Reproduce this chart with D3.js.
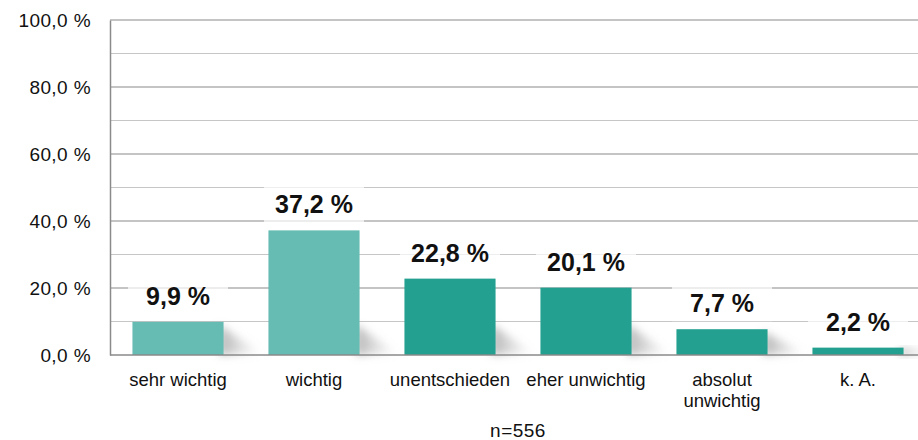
<!DOCTYPE html>
<html>
<head>
<meta charset="utf-8">
<script src="https://cdn.jsdelivr.net/npm/d3@7"></script>
<style>
  body { margin: 0; background: #fff; }
  text { font-family: "Liberation Sans", Arial, sans-serif; }
</style>
</head>
<body>
<svg id="mainsvg" width="918" height="440"></svg>
<script>
// data
const categories = ['sehr wichtig', 'wichtig', 'unentschieden', 'eher unwichtig', 'absolut unwichtig', 'k. A.'];
const values = [9.9, 37.2, 22.8, 20.1, 7.7, 2.2];
const barColors = ['#66bcb3', '#66bcb3', '#23a08f', '#23a08f', '#23a08f', '#23a08f'];
const majorTicks = [0, 20, 40, 60, 80, 100];
const minorTicks = [10, 30, 50, 70, 90];
const footnote = 'n=556';

const svg = d3.select('#mainsvg');
const margin = { top: 20, left: 110, right: 926, bottom: 355 };

const yScale = d3.scaleLinear().domain([0, 100]).range([margin.bottom, margin.top]);
const xScale = d3.scaleBand().domain(categories)
    .range([margin.left, margin.right])
    .paddingInner(0.33).paddingOuter(0.165);

const fmt = v => v.toFixed(1).replace('.', ',') + ' %';

// shadow filter
const defs = svg.append('defs');
defs.append('filter').attr('id', 'blur')
    .attr('x', '-50%').attr('y', '-50%').attr('width', '200%').attr('height', '200%')
    .append('feGaussianBlur').attr('stdDeviation', 4);
const grad = defs.append('linearGradient').attr('id', 'shade')
    .attr('x1', 0).attr('x2', 1).attr('y1', 0).attr('y2', 0);
grad.append('stop').attr('offset', 0).attr('stop-color', '#9a9a9a').attr('stop-opacity', 0.75);
grad.append('stop').attr('offset', 1).attr('stop-color', '#bbbbbb').attr('stop-opacity', 0);

// grid lines
const g = svg.append('g');
g.selectAll('.minor').data(minorTicks).enter().append('line')
    .attr('x1', margin.left).attr('x2', 918)
    .attr('y1', d => yScale(d)).attr('y2', d => yScale(d))
    .attr('stroke', '#c6c6c6').attr('stroke-width', 1.2);
g.selectAll('.major').data(majorTicks.slice(1)).enter().append('line')
    .attr('x1', margin.left).attr('x2', 918)
    .attr('y1', d => yScale(d)).attr('y2', d => yScale(d))
    .attr('stroke', '#8a8a8a').attr('stroke-width', 1.2);

// y axis
const yAxis = d3.axisLeft(yScale).tickValues(majorTicks).tickFormat(fmt).tickSize(0).tickPadding(19);
const yAxisGroup = g.append('g').attr('transform', `translate(${margin.left},0)`).call(yAxis);
yAxisGroup.select('.domain').attr('stroke', '#8a8a8a').attr('stroke-width', 1.5);
yAxisGroup.selectAll('text').attr('font-size', '19px').attr('fill', '#111')
    .attr('letter-spacing', '0.4px')
    .attr('font-family', '"Liberation Sans", Arial, sans-serif');

// shadows
g.selectAll('.shadow').data(values).enter().append('path')
    .attr('d', (d, i) => {
        const x0 = xScale(categories[i]) + xScale.bandwidth();
        const y0 = yScale(0);
        const h = Math.min(yScale(0) - yScale(d), 34) * 0.9;
        return `M${x0 - 4},${y0} L${x0 - 4},${y0 - h} L${x0 + 38},${y0 - 2} Z`;
    })
    .attr('fill', 'url(#shade)')
    .attr('filter', 'url(#blur)');

// bars
g.selectAll('.bar').data(values).enter().append('rect')
    .attr('x', (d, i) => xScale(categories[i]))
    .attr('y', d => yScale(d))
    .attr('width', xScale.bandwidth())
    .attr('height', d => yScale(0) - yScale(d))
    .attr('fill', (d, i) => barColors[i]);

// baseline
g.append('line')
    .attr('x1', margin.left).attr('x2', 918)
    .attr('y1', yScale(0)).attr('y2', yScale(0))
    .attr('stroke', '#8a8a8a').attr('stroke-width', 1.5);

// value labels with faded box
const labels = g.selectAll('.vlabel').data(values).enter().append('g')
    .attr('transform', (d, i) => `translate(${xScale(categories[i]) + xScale.bandwidth() / 2}, ${yScale(d) - 17})`);
labels.append('rect')
    .attr('x', -50).attr('y', -30).attr('width', 100).attr('height', 39)
    .attr('fill', '#fff').attr('opacity', 0.7);
labels.append('text')
    .attr('text-anchor', 'middle')
    .attr('font-size', '25px').attr('font-weight', 'bold').attr('fill', '#111')
    .text(d => fmt(d));

// category labels
const catLabels = g.selectAll('.cat').data(categories).enter().append('text')
    .attr('x', d => xScale(d) + xScale.bandwidth() / 2)
    .attr('y', 386)
    .attr('text-anchor', 'middle')
    .attr('font-size', '18.5px').attr('fill', '#111');
catLabels.each(function(d) {
    const parts = d === 'absolut unwichtig' ? ['absolut', 'unwichtig'] : [d];
    const t = d3.select(this);
    parts.forEach((p, k) => {
        t.append('tspan').attr('x', t.attr('x')).attr('dy', k === 0 ? 0 : 21).text(p);
    });
});

// footnote
g.append('text')
    .attr('x', (margin.left + margin.right) / 2)
    .attr('y', 437)
    .attr('text-anchor', 'middle')
    .attr('font-size', '19px').attr('fill', '#111')
    .attr('letter-spacing', '0.5px')
    .text(footnote);
</script>
</body>
</html>
